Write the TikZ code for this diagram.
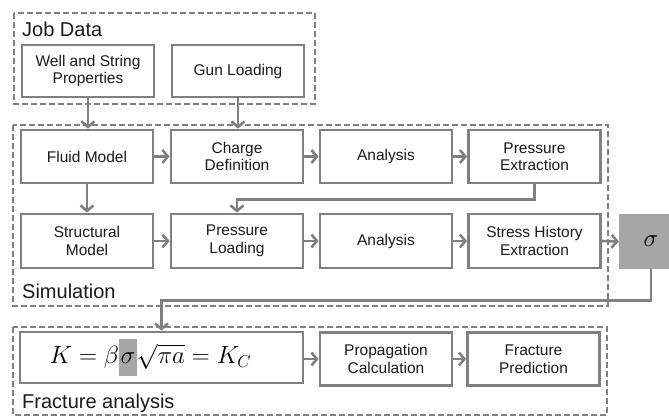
\documentclass[tikz,border=0pt]{standalone}
\usepackage{fontspec}
\setmainfont{Liberation Sans}
\usetikzlibrary{arrows.meta,calc}
\definecolor{lgray}{HTML}{808080}
\definecolor{sfill}{HTML}{A6A6A6}
\definecolor{txt}{HTML}{1A1A1A}
\begin{document}
\begin{tikzpicture}[x=1pt,y=-1pt,
  box/.style={draw=lgray,line width=2.8pt,minimum width=132pt,minimum height=52pt,
    align=center,text=txt,font=\fontsize{15.5}{17.5}\selectfont,inner sep=0pt},
  group/.style={draw=lgray,line width=1.8pt,dash pattern=on 6pt off 3pt},
  grouplabel/.style={anchor=base west,text=txt,font=\fontsize{20}{24}\selectfont,inner sep=0pt},
  conn/.style={draw=lgray,line width=2.6pt,-{Straight Barb[length=5.5pt,width=13pt]}}
]
\useasboundingbox (0,0) rectangle (669,417);
% group frames
\draw[group] (14,13) rectangle (315,104);
\draw[group] (13,125) rectangle (608,306);
\draw[group] (13,327) rectangle (607,415);
\node[grouplabel] (ljob) at (22,37) {Job Data};
\node[grouplabel] (lsim) at (22,298) {Simulation};
\node[grouplabel] (lfrac) at (22,408) {Fracture analysis};
% job data
\node[box] (well) at (88,71) {Well and String\\Properties};
\node[box] (gun) at (238,71) {Gun Loading};
% simulation row 1
\node[box,minimum height=53pt] (fluid) at (87,156.5) {Fluid Model};
\node[box,minimum height=53pt] (charge) at (237,156.5) {Charge\\Definition};
\node[box,minimum height=53pt] (ana1) at (386,156.5) {Analysis};
\node[box,minimum height=53pt] (pext) at (534.5,156.5) {Pressure\\Extraction};
% simulation row 2
\node[box,minimum height=54pt] (struct) at (87,241) {Structural\\Model};
\node[box,minimum height=54pt] (pload) at (237,241) {Pressure\\Loading};
\node[box,minimum height=54pt] (ana2) at (386,241) {Analysis};
\node[box,minimum height=54pt] (stress) at (534.5,241) {Stress History\\Extraction};
\node[fill=sfill,minimum width=64pt,minimum height=55pt,inner sep=0pt,
  font=\fontsize{24}{28}\selectfont] (sigma) at (651,241.5) {$\sigma$};
% fracture analysis
\node[box,minimum width=283pt,minimum height=51pt,font=\fontsize{25}{30}\selectfont,text=black]
  (formula) at (161.5,357.5)
  {$K = \beta{\setlength{\fboxsep}{1.5pt}\colorbox{sfill}{\rule[-11pt]{0pt}{34pt}$\sigma$}}\sqrt{\pi a} = K_C$\hspace*{22pt}};
\node[box,minimum height=53pt] (prop) at (386,359) {Propagation\\Calculation};
\node[box,minimum height=53pt] (fpred) at (533.5,359) {Fracture\\Prediction};
% connectors
\draw[conn] (well.south) -- (well.south |- fluid.north);
\draw[conn] (gun.south) -- (gun.south |- charge.north);
\draw[conn] (fluid.east) -- (charge.west);
\draw[conn] (charge.east) -- (ana1.west);
\draw[conn] (ana1.east) -- (pext.west);
\draw[conn] (pext.south) -- ++(0,15) -| (pload.north);
\draw[conn] (fluid.south) -- (struct.north);
\draw[conn] (struct.east) -- (pload.west);
\draw[conn] (pload.east) -- (ana2.west);
\draw[conn] (ana2.east) -- (stress.west);
\draw[conn] (stress.east) -- (sigma.west);
\draw[conn] (sigma.south) -- ++(0,31) -| (formula.north);
\draw[conn] (formula.east |- prop.west) -- (prop.west);
\draw[conn] (prop.east) -- (fpred.west);
\end{tikzpicture}
\end{document}
